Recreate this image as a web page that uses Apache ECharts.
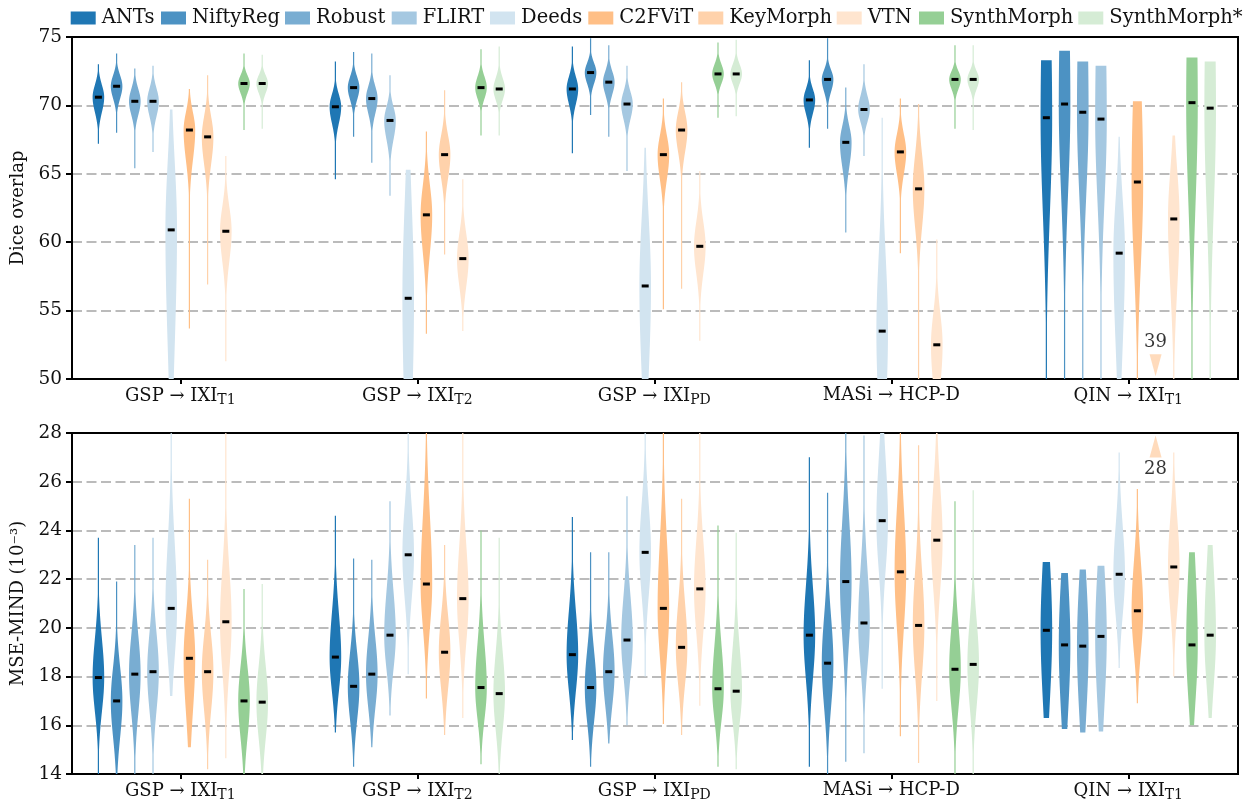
<!DOCTYPE html>
<html>
<head>
<meta charset="utf-8">
<script src="https://cdn.jsdelivr.net/npm/echarts@6/dist/echarts.min.js"></script>
<style>html,body{margin:0;padding:0;background:#fff}#c{width:1246px;height:806px}</style>
</head>
<body>
<div id="c"></div>
<script>
// ---------- DATA ----------
const methods = ['ANTs','NiftyReg','Robust','FLIRT','Deeds','C2FViT','KeyMorph','VTN','SynthMorph','SynthMorph*'];
const colors  = ['#1f77b4','#4c92c3','#79add2','#a5c8e1','#d2e4f0','#ffbf86','#ffd2ab','#ffe5cf','#95cf95','#d5ecd5'];
const groupMain = ['GSP \u2192 IXI','GSP \u2192 IXI','GSP \u2192 IXI','MASi \u2192 HCP-D','QIN \u2192 IXI'];
const groupSub  = ['T1','T2','PD','','T1'];
const diceTicks = [50, 55, 60, 65, 70, 75];
const mseTicks  = [14, 16, 18, 20, 22, 24, 26, 28];

// each violin: [min, max, median, spread below, spread above], one entry per dataset group
const diceANTs     = [[67.2,73.0,70.6,1.1,0.9],[64.6,73.2,69.9,1.2,0.9],[66.5,74.3,71.2,1.1,0.9],[66.9,73.3,70.4,1.0,0.8],[45,73.3,69.1,7,10]];
const diceNiftyReg = [[68.0,73.8,71.4,0.9,0.8],[67.7,73.9,71.3,0.9,0.8],[69.3,74.9,72.4,0.8,0.7],[68.3,74.9,71.9,0.9,0.7],[45,74.0,70.1,6.5,10]];
const diceRobust   = [[65.4,72.7,70.3,1.0,0.9],[65.8,73.8,70.5,1.1,0.9],[67.7,74.4,71.7,0.9,0.8],[60.7,71.3,67.3,1.8,1.2],[45,73.2,69.5,6,10]];
const diceFLIRT    = [[66.6,72.9,70.3,1.1,0.95],[63.4,72.2,68.9,1.4,1.0],[65.2,72.9,70.1,1.1,0.9],[66.3,73.0,69.7,0.9,1.0],[45,72.9,69.0,6,10]];
const diceDeeds    = [[45,69.7,60.9,8.5,5],[45,65.3,55.9,9,7],[45,66.9,56.8,6.5,5],[45,69.1,53.5,6,5.5],[44,67.7,59.2,6.8,4]];
const diceC2FViT   = [[53.7,71.2,68.2,2.2,1.3],[53.3,68.1,62.0,2.8,2.2],[55.1,70.5,66.4,1.8,1.4],[59.2,70.5,66.6,1.6,1.3],[47,70.3,64.4,6,8]];
const diceKeyMorph = [[56.9,72.2,67.7,2.0,1.5],[59.1,71.1,66.4,1.7,1.4],[56.6,71.7,68.2,1.6,1.3],[49,70.1,63.9,2.8,2.5],[30,46,39,3,3]];
const diceVTN      = [[51.3,66.3,60.8,2.2,1.8],[53.5,64.6,58.8,2.0,1.8],[52.8,65.2,59.7,2.0,1.8],[47,60.2,52.5,3,2.3],[45,67.8,61.7,5,3.5]];
const diceSynth    = [[68.2,73.8,71.6,0.7,0.6],[67.8,74.1,71.3,0.8,0.8],[69.1,74.6,72.3,0.7,0.7],[68.3,74.4,71.9,0.7,0.6],[45,73.5,70.2,7.5,10]];
const diceSynthS   = [[68.3,73.7,71.6,0.7,0.6],[67.8,74.3,71.2,0.8,0.8],[69.2,74.8,72.3,0.7,0.7],[68.2,74.4,71.9,0.7,0.6],[45,73.2,69.8,7.5,10]];

const mseANTs     = [[13.8,23.7,17.96,1.4,1.6],[15.7,24.6,18.8,1.4,1.8],[15.4,24.55,18.9,1.5,1.8],[14.3,27.0,19.7,1.8,2.0],[16.3,22.7,19.9,2.9,2.9]];
const mseNiftyReg = [[13.5,21.9,17.0,1.5,1.4],[14.3,22.85,17.6,1.4,1.4],[14.3,23.1,17.55,1.4,1.5],[13.8,25.55,18.55,1.8,1.9],[15.85,22.25,19.3,2.8,2.8]];
const mseRobust   = [[13.8,23.4,18.1,1.6,1.6],[15.1,22.8,18.1,1.4,1.5],[15.25,23.1,18.2,1.4,1.5],[14.5,28.3,21.9,2.3,2.5],[15.7,22.4,19.25,2.8,2.8]];
const mseFLIRT    = [[13.8,23.7,18.2,1.6,1.6],[16.4,25.2,19.7,1.4,1.8],[16.0,25.4,19.5,1.5,1.8],[14.85,27.9,20.2,1.8,2.2],[15.75,22.55,19.65,2.8,2.8]];
const mseDeeds    = [[17.2,28.5,20.8,2.0,2.7],[18.1,28.5,23.0,1.8,2.0],[18.0,28.5,23.1,1.8,2.0],[17.5,29.5,24.4,2.0,2.5],[18.35,27.2,22.2,1.7,2.0]];
const mseC2FViT   = [[15.1,25.3,18.75,2.2,1.7],[17.1,29.5,21.8,1.8,2.8],[16.05,29.5,20.8,2.0,2.8],[15.55,29.0,22.3,2.3,2.6],[16.9,25.7,20.7,1.7,2.0]];
const mseKeyMorph = [[14.2,22.8,18.2,1.6,1.5],[15.6,23.4,19.0,1.5,1.5],[15.6,25.3,19.2,1.5,1.8],[14.45,27.5,20.1,2.0,2.2],[28.5,33,30,1.5,1.5]];
const mseVTN      = [[14.65,28.5,20.25,2.0,2.2],[16.3,28.5,21.2,1.8,2.2],[16.8,28.3,21.6,1.8,2.0],[17.0,28.5,23.6,2.0,2.2],[18.0,27.2,22.5,1.8,2.0]];
const mseSynth    = [[13.5,21.6,17.0,1.5,1.4],[14.4,24.0,17.55,1.3,1.8],[14.3,24.2,17.5,1.3,1.8],[13.5,25.2,18.3,1.6,1.8],[16.0,23.1,19.3,2.3,3.2]];
const mseSynthS   = [[13.5,21.8,16.95,1.5,1.5],[13.8,23.7,17.3,1.5,1.7],[14.2,23.9,17.4,1.3,1.8],[13.6,25.65,18.5,1.7,1.8],[16.3,23.4,19.7,2.1,2.8]];

// off-scale annotations: [panel, group, method index, label]
const offScale = [[0, 4, 6, '39'], [1, 4, 6, '28']];

// ---------- CHART ----------
const diceSets = [diceANTs,diceNiftyReg,diceRobust,diceFLIRT,diceDeeds,diceC2FViT,diceKeyMorph,diceVTN,diceSynth,diceSynthS];
const mseSets  = [mseANTs,mseNiftyReg,mseRobust,mseFLIRT,mseDeeds,mseC2FViT,mseKeyMorph,mseVTN,mseSynth,mseSynthS];
const FONT = "'DejaVu Serif', serif";
const STEP = 0.0768;   // spacing between violins (x units)
const HALF = 5.8;      // max half width in px
const ranges = [[diceTicks[0], diceTicks[diceTicks.length-1]], [mseTicks[0], mseTicks[mseTicks.length-1]]];

function violinSeries(p, mi, sets) {
  return {
    type: 'custom', name: methods[mi], xAxisIndex: p, yAxisIndex: p, clip: true,
    itemStyle: { color: colors[mi] },
    encode: { x: 0, y: [1, 2] },
    data: sets[mi].map((v, g) => [g, v[0], v[1], v[2], v[3], v[4]]),
    renderItem: function (params, api) {
      const g = api.value(0), lo = api.value(1), hi = api.value(2), med = api.value(3), sd = api.value(4), su = api.value(5);
      const xc = g + (mi - 4.5) * STEP;
      const a = Math.max(lo, ranges[p][0] - 1), b = Math.min(hi, ranges[p][1] + 1);
      if (a >= b) return null;
      const N = 90, R = [], L = [];
      for (let i = 0; i <= N; i++) {
        const y = a + (b - a) * i / N;
        const s = y >= med ? su : sd;
        const f = Math.exp(-0.5 * Math.pow((y - med) / s, 2));
        const hw = Math.max(HALF * f, 0.6);
        const pt = api.coord([xc, y]);
        R.push([pt[0] + hw, pt[1]]);
        L.push([pt[0] - hw, pt[1]]);
      }
      const children = [{ type: 'polygon', shape: { points: R.concat(L.reverse()) }, style: { fill: colors[mi] } }];
      if (med >= ranges[p][0] && med <= ranges[p][1]) {
        const c = api.coord([xc, med]);
        children.push({ type: 'rect', shape: { x: c[0] - 3.5, y: c[1] - 1.5, width: 7, height: 3 }, style: { fill: '#000' }, z2: 10 });
      }
      return { type: 'group', children };
    }
  };
}

const series = [];
for (let mi = 0; mi < methods.length; mi++) {
  series.push(violinSeries(0, mi, diceSets));
  series.push(violinSeries(1, mi, mseSets));
}
offScale.forEach(o => {
  const [p, g, mi, txt] = o;
  const top = p === 0;
  series.push({
    type: 'scatter', xAxisIndex: p, yAxisIndex: p, silent: true,
    symbol: 'triangle', symbolRotate: top ? 180 : 0, symbolSize: [12, 22],
    itemStyle: { color: colors[mi] },
    label: { show: true, formatter: txt, position: top ? 'top' : 'bottom', distance: 3,
             fontFamily: FONT, fontSize: 18, color: '#000' },
    data: [[g + (mi - 4.5) * STEP, top ? 51.0 : 27.45]]
  });
});

const legendLefts = [70.7, 161, 285, 391.7, 490, 588.3, 698.3, 836.7, 919, 1078.3];
const legends = methods.map((m, i) => ({
  data: [m], left: legendLefts[i], top: 8, padding: 0, icon: 'rect', itemWidth: 25, itemHeight: 13, itemGap: 0,
  textStyle: { fontFamily: FONT, fontSize: 19.5, color: '#111', padding: [0, 0, 0, 1] }, selectedMode: false
}));

function xAxisDef(p) {
  return {
    type: 'value', gridIndex: p, min: -0.457, max: 4.463,
    axisLine: { show: true, onZero: false, lineStyle: { color: '#000', width: 2 } },
    axisTick: { show: true, customValues: [0, 1, 2, 3, 4], length: 5, lineStyle: { color: '#000', width: 2 } },
    axisLabel: {
      customValues: [0, 1, 2, 3, 4], margin: 7,
      formatter: v => { const i = Math.round(v); return groupSub[i] ? '{m|' + groupMain[i] + '}{s|' + groupSub[i] + '}' : '{m|' + groupMain[i] + '}'; },
      rich: {
        m: { fontFamily: FONT, fontSize: 18, color: '#111' },
        s: { fontFamily: FONT, fontSize: 14, color: '#111', padding: [7, 0, 0, 0] }
      }
    },
    splitLine: { show: false }
  };
}
function yAxisDef(p, name) {
  const t = p === 0 ? diceTicks : mseTicks;
  return {
    type: 'value', gridIndex: p, min: t[0], max: t[t.length - 1], interval: t[1] - t[0],
    name: name, nameLocation: 'middle', nameGap: 44,
    nameTextStyle: { fontFamily: FONT, fontSize: 18, color: '#111' },
    axisLine: { show: true, onZero: false, lineStyle: { color: '#000', width: 2 } },
    axisTick: { show: true, length: 6, lineStyle: { color: '#000', width: 2 } },
    axisLabel: { margin: 10, fontFamily: FONT, fontSize: 18.5, color: '#111' },
    splitLine: { show: true, showMinLine: false, showMaxLine: false, lineStyle: { color: '#bbbbbb', width: 2, type: [10, 4.5] } }
  };
}

const chart = echarts.init(document.getElementById('c'), null, { renderer: 'canvas' });
chart.setOption({
  animation: false,
  backgroundColor: '#fff',
  legend: legends,
  grid: [
    { left: 72, right: 8, top: 37, height: 342, show: true, borderColor: '#000', borderWidth: 2, backgroundColor: 'transparent' },
    { left: 72, right: 8, top: 433, height: 341, show: true, borderColor: '#000', borderWidth: 2, backgroundColor: 'transparent' }
  ],
  xAxis: [xAxisDef(0), xAxisDef(1)],
  yAxis: [yAxisDef(0, 'Dice overlap'), yAxisDef(1, 'MSE-MIND (10\u207B\u00B3)')],
  series: series
});
</script>
</body>
</html>
